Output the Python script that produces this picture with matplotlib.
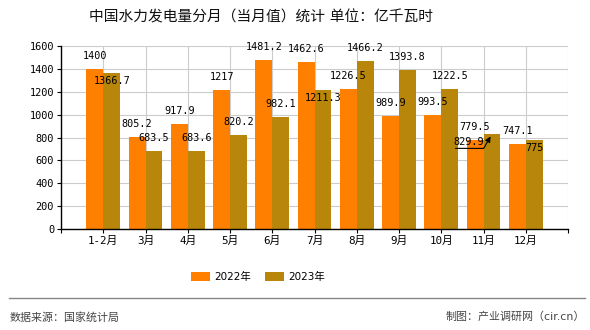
import matplotlib
matplotlib.use("Agg")
import matplotlib.pyplot as plt
import numpy as np

categories = ["1-2月", "3月", "4月", "5月", "6月", "7月", "8月", "9月", "10月", "11月", "12月"]
v2022 = [1400, 805.2, 917.9, 1217, 1481.2, 1462.6, 1226.5, 989.9, 993.5, 779.5, 747.1]
v2023 = [1366.7, 683.5, 683.6, 820.2, 982.1, 1211.3, 1466.2, 1393.8, 1222.5, 829.9, 775]
series_names = ["2022年", "2023年"]
yticks = [0, 200, 400, 600, 800, 1000, 1200, 1400, 1600]

# label vertical offsets (pixels, + above bar top) for 2023 labels
off2023 = [-8, 13, 13, 13, 13, -8, 13, 13, 13, -8, -8]

C22 = "#FF8000"
C23 = "#B8860B"
CJK = ["DejaVu Sans", "Noto Sans CJK SC"]
MONO = ["DejaVu Sans Mono", "Noto Sans CJK SC"]

fig = plt.figure(figsize=(5.9, 3.3), dpi=100)
ax = fig.add_axes([61/590, 1-229/330, (568-61)/590, (229-46)/330])

x = np.arange(1, len(categories) + 1)
w = 0.4
b1 = ax.bar(x - w/2, v2022, w, color=C22, label=series_names[0], zorder=3)
b2 = ax.bar(x + w/2, v2023, w, color=C23, label=series_names[1], zorder=3)

ax.set_xlim(0, 12)
ax.set_ylim(0, 1600)
ax.set_yticks(yticks)
ax.set_yticklabels([str(t) for t in yticks], fontfamily=MONO, fontsize=7.4, color="#000")
ax.set_xticks(np.arange(0, 13))
ax.set_xticklabels([""] + categories + [""], fontfamily=MONO, fontsize=7.8, color="#000")
ax.tick_params(axis="both", length=3, width=0.8, color="#000", pad=2)
ax.grid(True, color="#cccccc", linewidth=0.8, zorder=0)
for s in ["top", "right"]:
    ax.spines[s].set_visible(False)
for s in ["left", "bottom"]:
    ax.spines[s].set_color("#000")
    ax.spines[s].set_linewidth(1.0)
    ax.spines[s].set_zorder(4)

px = 0.72  # points per pixel at dpi 100
for xi, v in zip(x, v2022):
    ax.annotate(f"{v:g}", (xi - w/2, v), xytext=(0, 13*px), textcoords="offset points",
                ha="center", va="center", fontsize=7.3, fontfamily=MONO, color="#000", zorder=5)
for i, (xi, v) in enumerate(zip(x, v2023)):
    if categories[i] == "11月":
        ax.annotate(f"{v:g}", (xi + w/2, v), xytext=(-23*px, -8*px), textcoords="offset points",
                    ha="center", va="center", fontsize=7.3, fontfamily=MONO, color="#000", zorder=5)
        ax.annotate("", (xi + w/2, v), xytext=(xi + w/2 - 0.93, v - 125),
                    arrowprops=dict(arrowstyle="-|>", color="#000", lw=0.8,
                                    connectionstyle="angle,angleA=0,angleB=60,rad=0",
                                    mutation_scale=8), zorder=5)
        continue
    ax.annotate(f"{v:g}", (xi + w/2, v), xytext=(0, off2023[i]*px), textcoords="offset points",
                ha="center", va="center", fontsize=7.3, fontfamily=MONO, color="#000", zorder=5)

fig.text(261/590, 1-17/330, "中国水力发电量分月（当月值）统计 单位：亿千瓦时", ha="center", va="center",
         fontsize=10.6, fontfamily=CJK, color="#111")

leg = fig.legend(handles=[b1, b2], labels=series_names, loc="center", bbox_to_anchor=(258/590, 1-277/330),
                 ncol=2, frameon=False, prop={"family": CJK, "size": 7.5}, handlelength=1.85, handleheight=0.9,
                 columnspacing=1.35, handletextpad=0.4)

fig.add_artist(plt.Line2D([9/590, 585/590], [1-298/330, 1-298/330], color="#888888", linewidth=1.0,
                          transform=fig.transFigure))
fig.text(10/590, 1-317/330, "数据来源：国家统计局", ha="left", va="center", fontsize=7.9,
         fontfamily=CJK, color="#444")
fig.text(585/590, 1-317/330, "制图：产业调研网（cir.cn）", ha="right", va="center", fontsize=7.9,
         fontfamily=CJK, color="#444")

fig.savefig("out.png", dpi=100)
